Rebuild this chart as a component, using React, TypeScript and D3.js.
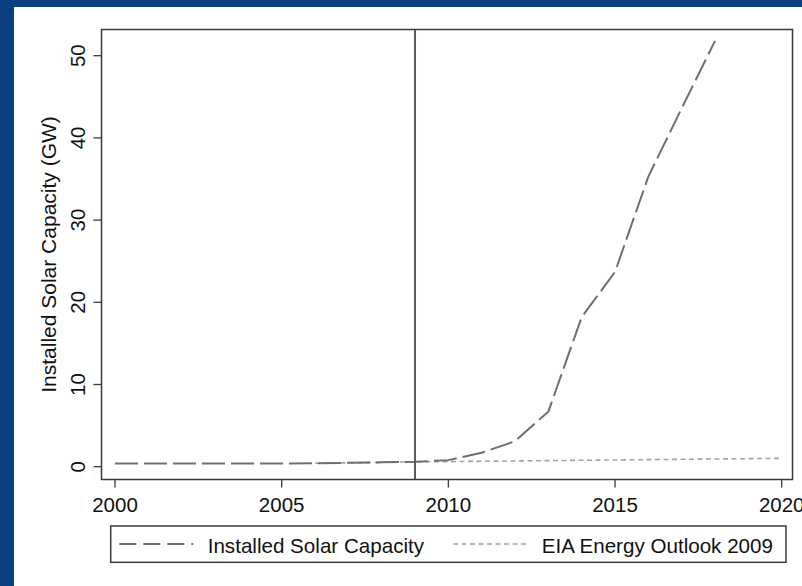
import React from "react";
import * as d3 from "d3";

const years = [2000, 2001, 2002, 2003, 2004, 2005, 2006, 2007, 2008, 2009, 2010, 2011, 2012, 2013, 2014, 2015, 2016, 2017, 2018];
const installed = [0.4, 0.4, 0.4, 0.4, 0.4, 0.4, 0.42, 0.47, 0.53, 0.6, 0.8, 1.7, 3.1, 6.7, 18.2, 23.7, 35.3, 43.6, 51.8];
const eiaYears = [2006, 2007, 2008, 2009, 2010, 2011, 2012, 2013, 2014, 2015, 2016, 2017, 2018, 2019, 2020];
const eiaValues = [0.42, 0.47, 0.53, 0.6, 0.62, 0.66, 0.7, 0.74, 0.78, 0.82, 0.86, 0.9, 0.94, 0.98, 1.02];
const xTicks = [2000, 2005, 2010, 2015, 2020];
const yTicks = [0, 10, 20, 30, 40, 50];
const markerYear = 2009;
const legendLabels = ["Installed Solar Capacity", "EIA Energy Outlook 2009"];
const yTitle = "Installed Solar Capacity (GW)";

const W = 802;
const H = 586;
const font = "'Liberation Sans', Arial, Helvetica, sans-serif";

export default function App() {
  const frame = { left: 101.5, top: 29.5, right: 792.5, bottom: 479.5 };
  const x = d3.scaleLinear().domain([2000, 2020]).range([115, 781.7]);
  const y = d3.scaleLinear().domain([0, 50]).range([466.7, 55.7]);

  const line = d3
    .line<[number, number]>()
    .x((d) => x(d[0]))
    .y((d) => y(d[1]));

  const instPath = line(years.map((yr, i) => [yr, installed[i]] as [number, number])) || "";
  const eiaPath = line(eiaYears.map((yr, i) => [yr, eiaValues[i]] as [number, number])) || "";

  const axisColor = "#3a3a3a";
  const legend = { x: 110.7, y: 526, w: 675.3, h: 36.3 };
  const legendLineY = 544;

  return (
    <svg
      width={W}
      height={H}
      style={{ position: "absolute", left: 0, top: 0, display: "block" }}
      fontFamily={font}
    >
      <rect x={0} y={0} width={W} height={H} fill="#0b3f80" />
      <rect x={14} y={7} width={W - 14} height={H - 7} fill="#ffffff" />

      {/* EIA line */}
      <path d={eiaPath} fill="none" stroke="#a2a2a2" strokeWidth={1.6} strokeDasharray="5,3.5" />
      {/* Installed line */}
      <path d={instPath} fill="none" stroke="#6e6e6e" strokeWidth={2} strokeDasharray="23,6" />

      {/* vertical marker */}
      <line
        x1={x(markerYear)}
        x2={x(markerYear)}
        y1={frame.top}
        y2={frame.bottom}
        stroke="#5a5a5a"
        strokeWidth={2}
      />

      {/* frame */}
      <rect
        x={frame.left}
        y={frame.top}
        width={frame.right - frame.left}
        height={frame.bottom - frame.top}
        fill="none"
        stroke={axisColor}
        strokeWidth={1.5}
      />

      {/* y ticks */}
      {yTicks.map((t) => (
        <g key={"y" + t}>
          <line x1={frame.left - 8} x2={frame.left} y1={y(t)} y2={y(t)} stroke={axisColor} strokeWidth={1.3} />
          <text
            transform={`translate(85,${y(t)}) rotate(-90)`}
            textAnchor="middle"
            fontSize={20.5}
            fill="#111"
          >
            {t}
          </text>
        </g>
      ))}

      {/* x ticks */}
      {xTicks.map((t) => (
        <g key={"x" + t}>
          <line x1={x(t)} x2={x(t)} y1={frame.bottom} y2={frame.bottom + 8} stroke={axisColor} strokeWidth={1.3} />
          <text x={x(t)} y={511.5} textAnchor="middle" fontSize={20.5} fill="#111">
            {t}
          </text>
        </g>
      ))}

      {/* y title */}
      <text
        transform={`translate(56,${(frame.top + frame.bottom) / 2}) rotate(-90)`}
        textAnchor="middle"
        fontSize={21}
        fill="#111"
      >
        {yTitle}
      </text>

      {/* legend */}
      <rect
        x={legend.x}
        y={legend.y}
        width={legend.w}
        height={legend.h}
        fill="#fff"
        stroke={axisColor}
        strokeWidth={1.5}
      />
      <line x1={119.3} x2={193.3} y1={legendLineY} y2={legendLineY} stroke="#6e6e6e" strokeWidth={2} strokeDasharray="17,7" />
      <text x={207.7} y={552.5} fontSize={20.6} fill="#111">
        {legendLabels[0]}
      </text>
      <line x1={453} x2={528} y1={legendLineY} y2={legendLineY} stroke="#a2a2a2" strokeWidth={1.6} strokeDasharray="5,3.5" />
      <text x={541.7} y={552.5} fontSize={20.6} fill="#111">
        {legendLabels[1]}
      </text>
    </svg>
  );
}
